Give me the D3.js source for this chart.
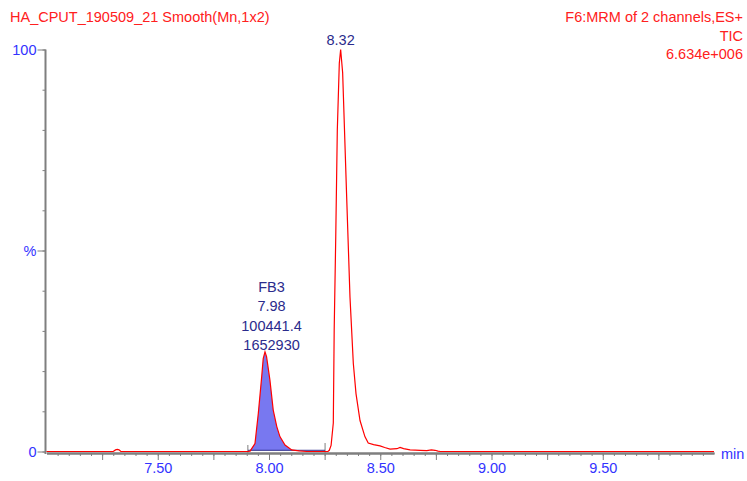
<!DOCTYPE html>
<html>
<head>
<meta charset="utf-8">
<script src="https://cdn.jsdelivr.net/npm/d3@7"></script>
<style>
  body { margin: 0; background: #fff; }
  svg text { font-family: "Liberation Sans", Arial, sans-serif; font-size: 14.5px; }
</style>
</head>
<body>
<svg id="svg" width="747" height="481"></svg>
<script>
// trace (time in min, intensity in %)
var times = [7.00, 7.30, 7.310, 7.318, 7.326, 7.334, 7.905, 7.915, 7.937, 7.952, 7.967, 7.974, 7.982,
  7.989, 8.004, 8.019, 8.035, 8.049, 8.072, 8.102, 8.135, 8.169, 8.265, 8.271, 8.279, 8.289,
  8.293, 8.300, 8.307, 8.316, 8.322, 8.331, 8.349, 8.364, 8.379, 8.391, 8.409, 8.431, 8.446,
  8.470, 8.499, 8.520, 8.544, 8.575, 8.589, 8.605, 8.634, 8.680, 8.709, 8.730, 8.746, 8.760, 8.770, 10.00];
var intensity = [0, 0, 0.4, 0.5, 0.4, 0, 0, 0.1, 2.0, 9.5, 18.5, 23.1, 24.8,
  23.6, 17.8, 10.3, 6.2, 3.7, 1.6, 0.4, 0.15, 0, 0, 0.3, 1.5, 7.1,
  30.2, 53.4, 80.0, 96.6, 100, 94.2, 63.4, 38.4, 21.9, 14.4, 7.7, 3.7, 2.1,
  1.7, 1.4, 1.0, 0.6, 0.7, 1.0, 0.7, 0.4, 0.3, 0.2, 0.4, 0.3, 0.1, 0, 0];

var xTickMinor = d3.range(7.05, 10.0, 0.05);
var xTickMajor = [7.25, 7.50, 7.75, 8.00, 8.25, 8.50, 8.75, 9.00, 9.25, 9.50, 9.75];
var xTickLabels = [7.50, 8.00, 8.50, 9.00, 9.50];
var yTickMinor = d3.range(0, 101, 10);
var yTickLabels = [0, 50, 100];

var peakIntegration = [7.905, 8.252];
var peakLabels = ["FB3", "7.98", "100441.4", "1652930"];
var topPeak = {t: 8.322, label: "8.32"};

var svg = d3.select("#svg");
var x = d3.scaleLinear().domain([7.0, 10.0]).range([46.5, 714]);
var y = d3.scaleLinear().domain([0, 100]).range([451.5, 49.5]);

var blue = "#3333ff", navy = "#2b2b8c", red = "#ff2020", gray = "#7f7f7f";

var pts = times.map(function(t, i){ return {t: t, v: intensity[i]}; });

// filled integrated peak
var fillPts = pts.filter(function(d){ return d.t >= peakIntegration[0] && d.t <= peakIntegration[1]; });
fillPts.push({t: peakIntegration[1], v: 0});
svg.append("path")
  .datum(fillPts)
  .attr("fill", "#7878f0")
  .attr("d", d3.area().x(function(d){ return x(d.t); }).y0(y(0.3)).y1(function(d){ return y(Math.max(d.v, 0.3)); }));

// axes
var xAxisY = 453;
function styleAxis(g){
  g.selectAll("path.domain").attr("stroke", gray).attr("stroke-width", 2);
  g.selectAll(".tick line").attr("stroke", gray);
}
var gx = svg.append("g").attr("transform", "translate(0," + xAxisY + ")")
  .call(d3.axisBottom(x).tickValues(xTickMinor).tickSize(3).tickFormat("").tickSizeOuter(0));
styleAxis(gx);
var gx2 = svg.append("g").attr("transform", "translate(0," + xAxisY + ")")
  .call(d3.axisBottom(x).tickValues(xTickMajor).tickSize(7).tickFormat("").tickSizeOuter(0));
styleAxis(gx2);
var gx3 = svg.append("g").attr("transform", "translate(0," + xAxisY + ")")
  .call(d3.axisBottom(x).tickValues(xTickLabels).tickSize(0).tickPadding(10).tickFormat(d3.format(".2f")));
gx3.select("path.domain").remove();
gx3.selectAll("text").attr("fill", blue).style("font-size", "14.5px");

var gy = svg.append("g").attr("transform", "translate(45.5,0)")
  .call(d3.axisLeft(y).tickValues(yTickMinor).tickSize(3).tickFormat("").tickSizeOuter(0));
styleAxis(gy);
gy.select("path.domain").attr("d", "M0," + y(100) + "V" + (xAxisY + 1));
var gy2 = svg.append("g").attr("transform", "translate(45.5,0)")
  .call(d3.axisLeft(y).tickValues(yTickLabels).tickSize(8).tickPadding(1)
    .tickFormat(function(d){ return d === 50 ? "%" : d; }));
gy2.select("path.domain").remove();
gy2.selectAll(".tick line").attr("stroke", gray);
gy2.selectAll("text").attr("fill", blue).style("font-size", "14.5px");

svg.append("text").attr("x", 721).attr("y", 459).attr("fill", blue).text("min");

// integration markers and baseline
svg.selectAll(".imark").data(peakIntegration).enter().append("line")
  .attr("x1", function(d){ return x(d); }).attr("x2", function(d){ return x(d); })
  .attr("y1", function(d, i){ return i ? 443 : 445; }).attr("y2", xAxisY)
  .attr("stroke", gray).attr("stroke-width", 1);
svg.append("line")
  .attr("x1", x(peakIntegration[0])).attr("x2", x(peakIntegration[1]))
  .attr("y1", y(0.3)).attr("y2", y(0.3))
  .attr("stroke", navy).attr("stroke-width", 1);

// trace
svg.append("path").datum(pts)
  .attr("fill", "none").attr("stroke", "#ff0000").attr("stroke-width", 1.2)
  .attr("d", d3.line().x(function(d){ return x(d.t); }).y(function(d){ return y(d.v); }));

// peak annotations
svg.append("text").attr("x", x(topPeak.t)).attr("y", 45).attr("text-anchor", "middle")
  .attr("fill", navy).text(topPeak.label);
svg.selectAll(".plab").data(peakLabels).enter().append("text")
  .attr("x", x(7.98) + 7).attr("y", function(d, i){ return 292 + i * 19.3; })
  .attr("text-anchor", "middle").attr("fill", navy)
  .text(function(d){ return d; });

// header
svg.append("text").attr("x", 10).attr("y", 22).attr("fill", red)
  .text("HA_CPUT_190509_21 Smooth(Mn,1x2)");
var hdr = ["F6:MRM of 2 channels,ES+", "TIC", "6.634e+006"];
svg.selectAll(".hdr").data(hdr).enter().append("text")
  .attr("x", 743).attr("y", function(d, i){ return 22 + i * 18.5; })
  .attr("text-anchor", "end").attr("fill", red)
  .text(function(d){ return d; });
</script>
</body>
</html>
